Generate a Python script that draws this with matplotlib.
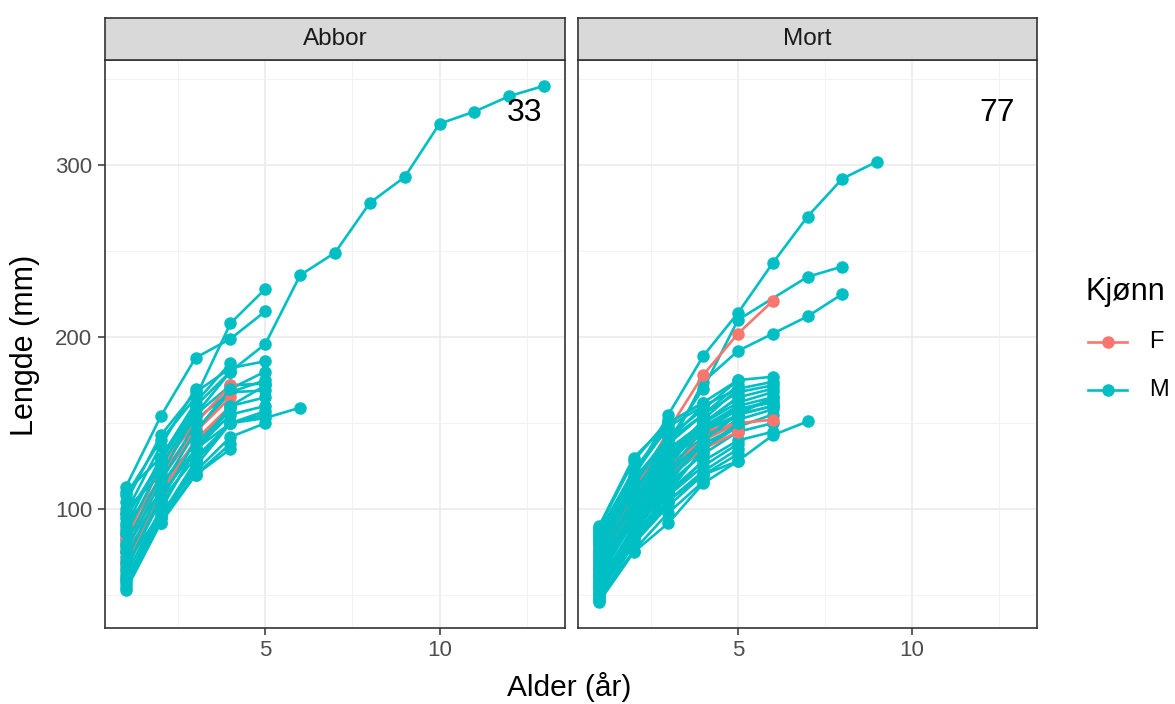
import numpy as np
import matplotlib
matplotlib.use("Agg")
import matplotlib.pyplot as plt
from matplotlib.lines import Line2D
from matplotlib.ticker import MultipleLocator

plt.rcParams["font.family"] = ["Liberation Sans", "DejaVu Sans"]

nan = np.nan

# lengths (mm) at age 1, 2, 3, ... for each fish
abbor_m = [
    [113, 154, 188, 199, 215],
    [108, 140, 165, 208, 228],
    [95, 128, 160, 180, 196, 236, 249, 278, 293, 324, 331, 340, 346],
    [104, 143, 168, 182, 186],
    [100, 120, 145, 170, 180],
    [97, 125, 155, 172, 173],
    [92, 115, 138, 160, 172],
    [88, 118, 145, 168, 169],
    [85, 125, 152, 168, 175],
    [82, 110, 140, 160, 165],
    [78, 108, 135, 155, 160],
    [75, 105, 130, 150, 157],
    [72, 95, 125, 150, 153, 159],
    [68, 98, 122, 142, 150],
    [64, 108, 135, 150, 155],
    [60, 92, 120, 135],
    [57, 100, 135, 158],
    [55, 95, 120, 138],
    [53, 92, 128, 150],
    [62, 100, 135, 160],
    [70, 112, 145, 170],
    [80, 120, 155, 180],
    [90, 130, 162, 185],
    [98, 137, 170],
    [110, 130, 160],
    [66, 105, 140],
    [59, 96, 128],
    [76, 116, 150],
    [86, 125, 158],
]
abbor_f = [
    [68, 110, 140, 160],
    [75, 118, 145, 165],
    [80, 120, 147],
    [83, 125, 150, 172],
]

mort_m = [
    [85, 118, 155, 189, 214, 243, 270, 292, 302],
    [82, 112, 140, 170, 210, nan, 235, 241],
    [78, 108, 135, 174, 192, 202, 212, 225],
    [55, 85, 105, 120, 128, 143, 151],
    [90, 130, 150, 162, 175, 177],
    [88, 110, 140, 160, 170, 174],
    [86, 118, 140, 155, 168, 172],
    [84, 105, 125, 150, 165, 170],
    [80, 112, 135, 150, 162, 168],
    [77, 108, 130, 148, 160, 165],
    [75, 105, 128, 145, 158, 162],
    [73, 102, 125, 142, 155, 160],
    [70, 100, 122, 140, 152, 158],
    [68, 112, 135, 148, 158, 163],
    [66, 95, 118, 135, 148, 155],
    [63, 92, 115, 132, 145, 150],
    [60, 100, 130, 145, 155, 160],
    [58, 88, 110, 128, 140, 145],
    [56, 85, 108, 125, 138],
    [54, 82, 105, 122, 135],
    [52, 80, 102, 120, 132],
    [50, 90, 118, 138, 148],
    [48, 76, 98, 116],
    [46, 75, 92, 115, 128],
    [62, 96, 122, 146, 160],
    [65, 100, 128, 150, 165],
    [71, 104, 130, 152, 170],
    [74, 110, 138, 155, 172],
    [79, 114, 142, 158, 175],
    [83, 120, 148, 160],
    [87, 122, 150, 162],
    [89, 128, 152],
    [69, 103, 132, 150],
    [64, 97, 126, 148],
    [59, 94, 120, 140],
    [57, 90, 117, 138],
    [53, 86, 113, 133],
    [49, 84, 108, 128],
    [47, 80, 104],
    [61, 93, 118],
    [67, 99, 124],
    [72, 106, 133],
    [76, 111, 136],
    [81, 116, 143],
    [85, 123, 147],
    [51, 83, 110, 135, 150],
    [55, 88, 115, 140, 155, 165],
]
mort_f = [
    [70, 110, 146, 178, 202, 221],
    [72, 105, 130, 145, 150, 152],
    [68, 100, 125, 140, 150],
    [75, 98, 120, 135, 145],
    [65, 95, 118, 138],
    [78, 108, 128],
]

panels = ["Abbor", "Mort"]
counts = ["33", "77"]
data = {"Abbor": (abbor_m, abbor_f), "Mort": (mort_m, mort_f)}
sexes = ["F", "M"]

col_f = "#F8766D"
col_m = "#00BFC4"
LW, MS = 1.9, 8

fig = plt.figure(figsize=(11.75, 7.04), dpi=100)
W, H = 1175, 704

def box(x0, x1, y0, y1):
    return [x0 / W, 1 - y1 / H, (x1 - x0) / W, (y1 - y0) / H]

lefts = [(105, 565), (578, 1037)]

def draw_fish(ax, lengths, color):
    y = np.array(lengths, dtype=float)
    x = np.arange(1, len(y) + 1)
    ok = ~np.isnan(y)
    ax.plot(x[ok], y[ok], color=color, lw=LW, marker="o", ms=MS,
            solid_capstyle="round", zorder=3)

for i, name in enumerate(panels):
    x0, x1 = lefts[i]
    ax = fig.add_axes(box(x0, x1, 60, 628))
    males, females = data[name]
    # interleave so some females end up above males
    half = len(males) // 2
    for fish in males[:half]:
        draw_fish(ax, fish, col_m)
    for fish in females:
        draw_fish(ax, fish, col_f)
    for fish in males[half:]:
        draw_fish(ax, fish, col_m)

    ax.set_xlim(0.4, 13.6)
    ax.set_ylim(31, 361)
    ax.xaxis.set_major_locator(MultipleLocator(5))
    ax.xaxis.set_minor_locator(MultipleLocator(2.5))
    ax.yaxis.set_major_locator(MultipleLocator(100))
    ax.yaxis.set_minor_locator(MultipleLocator(50))
    ax.grid(which="major", color="#EBEBEB", lw=1.2, zorder=0)
    ax.grid(which="minor", color="#F2F2F2", lw=0.7, zorder=0)
    ax.set_axisbelow(True)
    ax.tick_params(which="minor", length=0)
    ax.tick_params(which="major", length=5, color="#333333", width=1.1,
                   labelsize=16, labelcolor="#4D4D4D", pad=4)
    for s in ax.spines.values():
        s.set_color("#333333")
        s.set_linewidth(1.2)
    if i > 0:
        ax.tick_params(axis="y", labelleft=False, length=0)
    ax.text(12.95, 330, counts[i], ha="right", va="center", fontsize=23,
            color="black", zorder=5)

    sax = fig.add_axes(box(x0, x1, 18, 60))
    sax.set_facecolor("#D9D9D9")
    sax.set_xticks([])
    sax.set_yticks([])
    for s in sax.spines.values():
        s.set_color("#333333")
        s.set_linewidth(1.2)
    sax.text(0.5, 0.5, name, ha="center", va="center", fontsize=17.5,
             color="#1A1A1A", transform=sax.transAxes)

fig.text(569 / W, 1 - 687 / H, "Alder (år)", ha="center", va="center",
         fontsize=21.5)
fig.text(25 / W, 1 - 345 / H, "Lengde (mm)", ha="center", va="center",
         rotation=90, fontsize=22)

# legend drawn by hand to match the ggplot guide layout
fig.text(1085 / W, 1 - 292 / H, "Kjønn", ha="left", va="center", fontsize=22)
for sex, col, yy in zip(sexes, [col_f, col_m], [342, 390]):
    fig.add_artist(Line2D([1088 / W, 1127 / W], [1 - yy / H, 1 - yy / H],
                          color=col, lw=LW, transform=fig.transFigure))
    fig.add_artist(Line2D([1107.5 / W], [1 - yy / H], color=col, marker="o",
                          ms=MS, transform=fig.transFigure))
    fig.text(1149 / W, 1 - yy / H, sex, ha="left", va="center", fontsize=17)

fig.savefig("out.png", dpi=100)
